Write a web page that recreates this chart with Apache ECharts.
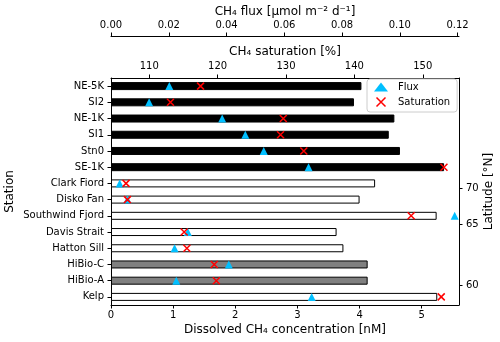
<!DOCTYPE html>
<html>
<head>
<meta charset="utf-8">
<script src="https://cdn.jsdelivr.net/npm/echarts@6/dist/echarts.min.js"></script>
<style>
  html, body { margin: 0; padding: 0; background: #fff; }
  #chart { width: 500px; height: 342px; }
</style>
</head>
<body>
<div id="chart"></div>
<script>
const stations = ["NE-5K", "SI2", "NE-1K", "SI1", "Stn0", "SE-1K", "Clark Fiord", "Disko Fan",
  "Southwind Fjord", "Davis Strait", "Hatton Sill", "HiBio-C", "HiBio-A", "Kelp"];
const stationGroup = ["ice", "ice", "ice", "ice", "ice", "ice", "open", "open",
  "open", "open", "open", "hibio", "hibio", "open"];
const concentration = [4.03, 3.91, 4.56, 4.47, 4.65, 5.36, 4.25, 4.0, 5.24, 3.63, 3.74, 4.13, 4.13, 5.25];
const flux = [0.0202, 0.0132, 0.0385, 0.0465, 0.0529, 0.0684, 0.003, 0.0057, 0.119, 0.0266, 0.022, 0.0408, 0.0226, 0.0695];
const saturation = [117.5, 113.1, 129.6, 129.2, 132.6, 153.1, 106.6, 106.8, 148.3, 115.1, 115.5, 119.5, 119.8, 152.7];

const concTicks = [0, 1, 2, 3, 4, 5];
const fluxTicks = [0, 0.02, 0.04, 0.06, 0.08, 0.1, 0.12];
const satTicks = [110, 120, 130, 140, 150];
const latLabels = [70, 65, 60];
const latAt = [6.3, 8.5, 12.27]; // where each latitude falls along the station axis

const groupColor = { ice: "#000000", open: "#ffffff", hibio: "#808080" };
const font = "DejaVu Sans";
const crossPath = "path://M0,0L10,10M10,0L0,10";

const chart = echarts.init(document.getElementById("chart"));

const axisCommon = {
  axisLine: { show: true, onZero: false, lineStyle: { color: "#000", width: 1 } },
  axisTick: { show: true, length: 3.5, lineStyle: { color: "#000", width: 1 } },
  axisLabel: { color: "#000", fontFamily: font, fontSize: 10, margin: 7 },
  splitLine: { show: false },
  nameMoveOverlap: false,
  nameTextStyle: { color: "#000", fontFamily: font, fontSize: 12 },
};

chart.setOption({
  animation: false,
  grid: { left: 111, top: 78, width: 348, height: 227, containLabel: false, outerBoundsMode: "none" },
  legend: {
    orient: "vertical",
    left: 367,
    top: 79,
    padding: [3, 7, 3, 7],
    itemGap: 3,
    itemWidth: 14,
    itemHeight: 9,
    borderColor: "#cccccc",
    borderWidth: 1,
    borderRadius: 3,
    backgroundColor: "#fff",
    textStyle: { color: "#000", fontFamily: font, fontSize: 10, padding: [0, 0, 0, 5] },
    data: [
      { name: "Flux", icon: "triangle" },
      { name: "Saturation", icon: crossPath, itemStyle: { color: "none", borderColor: "#ff0000", borderWidth: 1.5 } },
    ],
  },
  xAxis: [
    {
      ...axisCommon,
      type: "value",
      position: "bottom",
      min: 0,
      max: 5.6,
      axisTick: { ...axisCommon.axisTick, customValues: concTicks },
      axisLabel: { ...axisCommon.axisLabel, margin: 5, customValues: concTicks },
      name: "Dissolved CH₄ concentration [nM]",
      nameLocation: "middle",
      nameGap: 19,
    },
    {
      ...axisCommon,
      type: "value",
      position: "top",
      min: 104.4,
      max: 155.3,
      axisTick: { ...axisCommon.axisTick, customValues: satTicks },
      axisLabel: { ...axisCommon.axisLabel, customValues: satTicks },
      name: "CH₄ saturation [%]",
      nameLocation: "middle",
      nameGap: 20,
    },
    {
      ...axisCommon,
      type: "value",
      position: "top",
      offset: 42,
      min: 0,
      max: 0.1205,
      axisTick: { ...axisCommon.axisTick, customValues: fluxTicks },
      axisLabel: { ...axisCommon.axisLabel, margin: 6, customValues: fluxTicks, formatter: (v) => v.toFixed(2) },
      name: "CH₄ flux [µmol m⁻² d⁻¹]",
      nameLocation: "middle",
      nameGap: 18,
    },
  ],
  yAxis: [
    {
      ...axisCommon,
      type: "category",
      data: stations,
      inverse: true,
      position: "left",
      axisTick: { ...axisCommon.axisTick, alignWithLabel: true },
      name: "Station",
      nameLocation: "middle",
      nameGap: 95,
    },
    {
      ...axisCommon,
      type: "value",
      position: "right",
      inverse: true,
      min: -0.5,
      max: 13.5,
      axisTick: { ...axisCommon.axisTick, customValues: latAt },
      axisLabel: {
        ...axisCommon.axisLabel,
        customValues: latAt,
        formatter: (v) => String(latLabels[latAt.indexOf(v)]),
      },
      name: "Latitude [°N]",
      nameLocation: "middle",
      nameRotate: 90,
      nameGap: 24,
    },
  ],
  series: [
    {
      type: "bar",
      xAxisIndex: 0,
      yAxisIndex: 0,
      barWidth: 8,
      data: concentration.map((v, i) => ({
        value: v,
        itemStyle: { color: groupColor[stationGroup[i]], borderColor: "#000", borderWidth: 1 },
      })),
      z: 1,
    },
    {
      name: "Flux",
      type: "scatter",
      xAxisIndex: 2,
      yAxisIndex: 0,
      symbol: "triangle",
      symbolSize: 8,
      itemStyle: { color: "#00bfff", opacity: 1 },
      data: flux.map((v, i) => [v, stations[i]]),
      z: 3,
    },
    {
      name: "Saturation",
      type: "scatter",
      xAxisIndex: 1,
      yAxisIndex: 0,
      symbol: crossPath,
      symbolSize: 7,
      itemStyle: { color: "none", borderColor: "#ff0000", borderWidth: 1.5, opacity: 1 },
      data: saturation.map((v, i) => [v, stations[i]]),
      z: 4,
    },
  ],
});
</script>
</body>
</html>
